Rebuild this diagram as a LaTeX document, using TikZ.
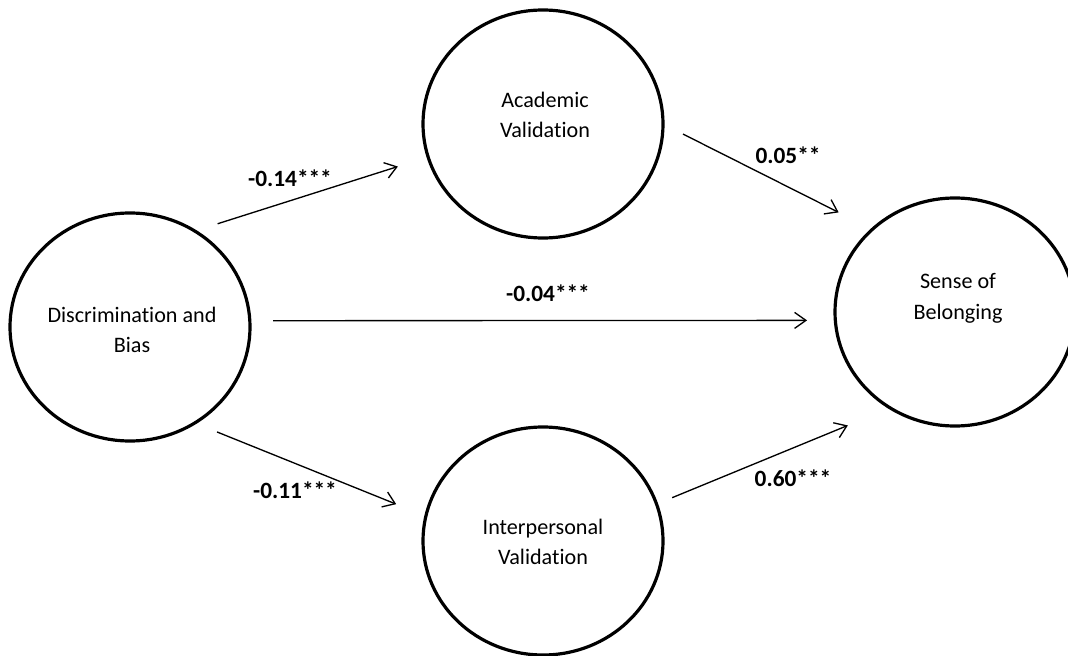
\documentclass[tikz,border=0pt]{standalone}
\usepackage{fontspec}
\setmainfont{Carlito}[Ligatures=NoCommon]
\usetikzlibrary{shapes.geometric,arrows.meta}

\begin{document}
\begin{tikzpicture}[x=0.75pt,y=-0.75pt,
  var/.style={ellipse,draw,line width=2.4pt,minimum width=180pt,minimum height=171pt,inner sep=0pt,outer sep=0pt},
  txt/.style={align=center,font=\fontsize{16.6}{23}\selectfont},
  coef/.style={font=\fontsize{17.5}{20}\selectfont\bfseries},
  effect/.style={line width=1pt,-{Straight Barb[length=8.5pt,width=12pt]}}]
\useasboundingbox(0,0)rectangle(1068,656);
% constructs
\node[var](disc)at(130,327){};
\node[var](acad)at(543,124){};
\node[var](interp)at(543,541){};
\node[var](sense)at(955,312){};
\node[txt](disc-t)at(132,330){Discrimination and\\Bias};
\node[txt](acad-t)at(545,115){Academic\\Validation};
\node[txt](interp-t)at(543,542){Interpersonal\\Validation};
\node[txt](sense-t)at(958,298){Sense of\\Belonging};
% paths
\draw[effect,shorten <=18pt,shorten >=23.8pt](disc.56)--(acad.196);
\draw[effect,shorten <=17.4pt,shorten >=21.2pt](disc.3)--(sense.184);
\draw[effect,shorten <=18pt,shorten >=24pt](disc.304)--(interp.168);
\draw[effect,shorten <=16.8pt,shorten >=28.3pt](acad.0)--(sense.135);
\draw[effect,shorten <=12.7pt,shorten >=34.4pt](interp.18)--(sense.236);
% coefficients
\node[coef](c-da)at(290,178){-0.14***};
\node[coef](c-ds)at(548,293){-0.04***};
\node[coef](c-di)at(295,490){-0.11***};
\node[coef](c-as)at(788,155){0.05**};
\node[coef](c-is)at(793,478){0.60***};
\end{tikzpicture}
\end{document}
